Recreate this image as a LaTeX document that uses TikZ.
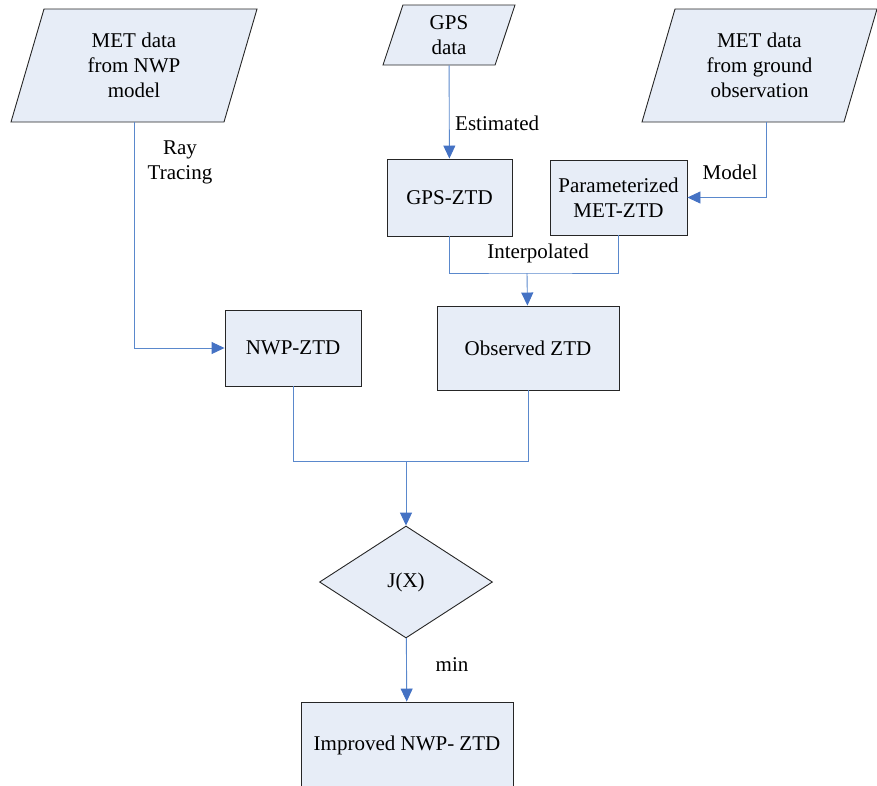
\documentclass[tikz,border=0pt]{standalone}
\usepackage{fontspec}
\setmainfont{Liberation Serif}
\definecolor{boxFill}{HTML}{E7EDF7}
\definecolor{boxEdge}{HTML}{262626}
\definecolor{linkBlue}{HTML}{5A88CC}
\definecolor{tipBlue}{HTML}{4472C4}
\usetikzlibrary{arrows.meta, positioning, shapes.geometric, calc}

\begin{document}
\begin{tikzpicture}[
    x=1pt, y=-1pt,
    every node/.style={font=\fontsize{21}{25}\selectfont, align=center},
    box/.style={rectangle, draw=boxEdge, fill=boxFill, line width=0.9pt, inner sep=0pt},
    datain/.style={trapezium, trapezium left angle=63, trapezium right angle=117, trapezium stretches body, draw=boxEdge, fill=boxFill, line width=0.9pt, inner sep=0pt},
    decide/.style={diamond, draw=boxEdge, fill=boxFill, line width=0.9pt, inner sep=0pt},
    link/.style={draw=linkBlue, line width=0.9pt},
    arr/.style={link, -{Triangle[length=13pt, width=12pt, color=tipBlue]}},
    lbl/.style={inner sep=0pt}
]
\useasboundingbox (0,0) rectangle (877,785);

% Inputs
\node[datain, minimum width=246pt, minimum height=113pt] (nwpdata) at (134,65.5) {MET data\\from NWP\\model};
\node[datain, minimum width=132pt, minimum height=60pt] (gpsdata) at (449,35) {GPS\\data};
\node[datain, minimum width=235pt, minimum height=113pt] (grounddata) at (759.5,65.5) {MET data\\from ground\\observation};

% ZTD boxes
\node[box, minimum width=125pt, minimum height=77pt] (gpsztd) at (449.5,197.5) {GPS-ZTD};
\node[box, minimum width=137pt, minimum height=75pt] (parammet) at (618.5,197.5) {Parameterized\\MET-ZTD};
\node[box, minimum width=136pt, minimum height=76pt] (nwpztd) at (293,348) {NWP-ZTD};
\node[box, minimum width=182pt, minimum height=84pt] (obsztd) at (528,348) {Observed ZTD};

% Cost function
\node[decide, minimum width=173pt, minimum height=112pt] (jx) at (406,582) {J(X)};
\node[box, minimum width=212pt, minimum height=86pt] (improved) at (407,745) {Improved NWP- ZTD};

% Junctions
\coordinate (jn1) at (527,273);
\coordinate (jn2) at (406,461);

% Arrows
\draw[arr] (nwpdata) |- (nwpztd);
\draw[arr] (gpsdata) -- (gpsztd);
\draw[arr] ([xshift=7pt]grounddata.south) |- (parammet);
\draw[link] (gpsztd) |- (jn1) -| (parammet);
\draw[arr] (jn1) -- (obsztd);
\draw[link] (nwpztd) |- (jn2) -| (obsztd);
\draw[arr] (jn2) -- (jx);
\draw[arr] (jx) -- (improved);

% Labels
\node[lbl] at (180,162) {Ray\\Tracing};
\node[lbl, anchor=west] at (455,123) {Estimated};
\node[lbl] at (730,172) {Model};
\node[lbl] at (538,253) {Interpolated};
\node[lbl] at (452,665) {min};

\end{tikzpicture}
\end{document}
